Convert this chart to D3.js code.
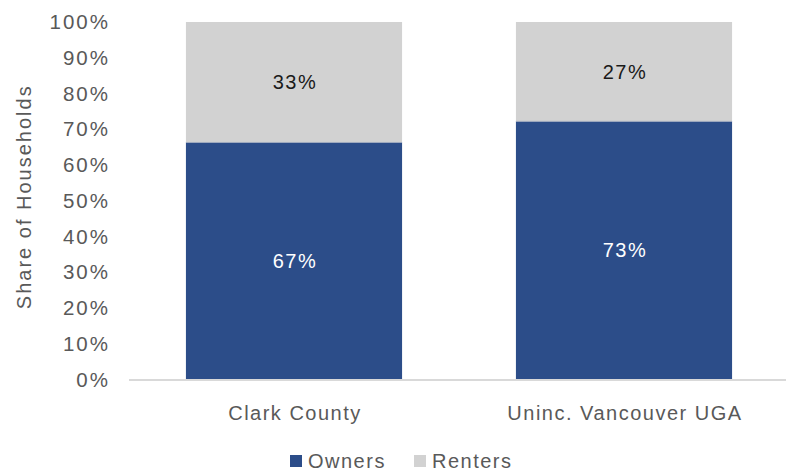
<!DOCTYPE html>
<html>
<head>
    <title>Share of Households - Owners and Renters</title>
    <script src="https://d3js.org/d3.v7.min.js"></script>
    <style>
        body { margin: 0; background: #fff; }
        text { font-family: "Liberation Sans", Arial, sans-serif; letter-spacing: 1.5px; }
    </style>
</head>
<body>
<svg width="786" height="471"></svg>
<script>
    const categories = ["Clark County", "Uninc. Vancouver UGA"];
    const owners = [66.3, 72.2];
    const renters = [33.7, 27.8];
    const ownerLabels = ["67%", "73%"];
    const renterLabels = ["33%", "27%"];
    const yTicks = [0, 10, 20, 30, 40, 50, 60, 70, 80, 90, 100];

    const svg = d3.select("svg");

    const x = d3.scaleBand()
        .domain(categories)
        .range([129, 789])
        .paddingInner(0.345)
        .paddingOuter(0.1725);

    const y = d3.scaleLinear()
        .domain([0, 100])
        .range([379.5, 22]);

    const rows = categories.map((c, i) => ({
        cat: c, own: owners[i], rent: renters[i],
        ownLabel: ownerLabels[i], rentLabel: renterLabels[i]
    }));

    // y tick labels
    svg.append("g")
        .selectAll("text")
        .data(yTicks)
        .join("text")
        .attr("x", 110)
        .attr("y", d => y(d))
        .attr("dy", "0.35em")
        .attr("text-anchor", "end")
        .attr("fill", "#595959")
        .attr("font-size", 20.5)
        .style("letter-spacing", "2px")
        .text(d => d + "%");

    // axis title
    svg.append("text")
        .attr("transform", "translate(31," + (y(50) - 4) + ") rotate(-90)")
        .attr("text-anchor", "middle")
        .attr("fill", "#595959")
        .attr("font-size", 20)
        .style("letter-spacing", "2px")
        .text("Share of Households");

    // owners
    svg.append("g")
        .selectAll("rect")
        .data(rows)
        .join("rect")
        .attr("x", d => x(d.cat))
        .attr("width", x.bandwidth())
        .attr("y", d => y(d.own))
        .attr("height", d => y(0) - y(d.own))
        .attr("fill", "#2C4D89");

    // renters
    svg.append("g")
        .selectAll("rect")
        .data(rows)
        .join("rect")
        .attr("x", d => x(d.cat))
        .attr("width", x.bandwidth())
        .attr("y", d => y(d.own + d.rent))
        .attr("height", d => y(d.own) - y(d.own + d.rent))
        .attr("fill", "#D2D2D2");

    // separator line between stacks
    svg.append("g")
        .selectAll("line")
        .data(rows)
        .join("line")
        .attr("x1", d => x(d.cat))
        .attr("x2", d => x(d.cat) + x.bandwidth())
        .attr("y1", d => y(d.own))
        .attr("y2", d => y(d.own))
        .attr("stroke", "#9aa6bd")
        .attr("stroke-width", 0.8);

    // baseline
    svg.append("line")
        .attr("x1", 129).attr("x2", 786)
        .attr("y1", y(0) + 0.5).attr("y2", y(0) + 0.5)
        .attr("stroke", "#d9d9d9")
        .attr("stroke-width", 2);

    // data labels
    svg.append("g")
        .selectAll("text")
        .data(rows)
        .join("text")
        .attr("x", d => x(d.cat) + x.bandwidth() / 2 + 1)
        .attr("y", d => (y(d.own) + y(0)) / 2)
        .attr("dy", "0.35em")
        .attr("text-anchor", "middle")
        .attr("fill", "#fff")
        .attr("font-size", 20)
        .text(d => d.ownLabel);

    svg.append("g")
        .selectAll("text")
        .data(rows)
        .join("text")
        .attr("x", d => x(d.cat) + x.bandwidth() / 2 + 1)
        .attr("y", d => (y(d.own) + y(d.own + d.rent)) / 2)
        .attr("dy", "0.35em")
        .attr("text-anchor", "middle")
        .attr("fill", "#1a1a1a")
        .attr("font-size", 20)
        .text(d => d.rentLabel);

    // category labels
    svg.append("g")
        .selectAll("text")
        .data(categories)
        .join("text")
        .attr("x", d => x(d) + x.bandwidth() / 2 + 1)
        .attr("y", 413)
        .attr("dy", "0.35em")
        .attr("text-anchor", "middle")
        .attr("fill", "#595959")
        .attr("font-size", 20)
        .text(d => d);

    // legend
    const legend = [
        { name: "Owners", color: "#2C4D89", x: 290 },
        { name: "Renters", color: "#D2D2D2", x: 414 }
    ];
    const lg = svg.append("g")
        .selectAll("g")
        .data(legend)
        .join("g")
        .attr("transform", d => "translate(" + d.x + ",461)");
    lg.append("rect")
        .attr("x", 0).attr("y", -6)
        .attr("width", 12).attr("height", 12)
        .attr("fill", d => d.color);
    lg.append("text")
        .attr("x", 18)
        .attr("dy", "0.35em")
        .attr("fill", "#595959")
        .attr("font-size", 20)
        .text(d => d.name);
</script>
</body>
</html>
